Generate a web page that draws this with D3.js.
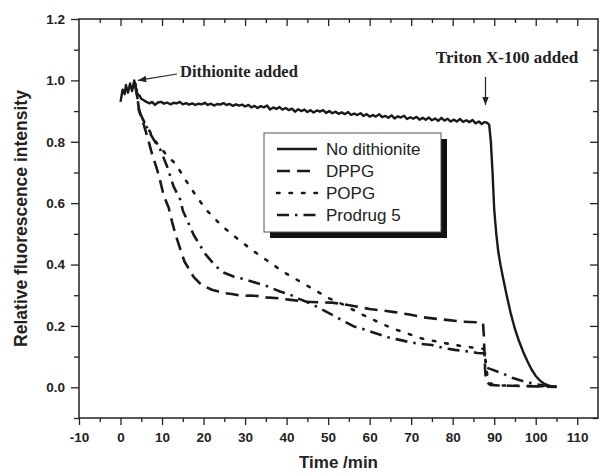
<!DOCTYPE html>
<html>
<head>
<meta charset="utf-8">
<script src="https://cdn.jsdelivr.net/npm/d3@7"></script>
<style>
  body { margin: 0; background: #fff; }
  svg { display: block; }
  .tick text { font-family: "Liberation Sans", Arial, sans-serif; font-weight: bold; font-size: 13.5px; fill: #222; }
</style>
</head>
<body>
<svg id="svg" width="601" height="474"></svg>
<script>
// tick values
var xTicks = [-10, 0, 10, 20, 30, 40, 50, 60, 70, 80, 90, 100, 110];
var yTicks = [0.0, 0.2, 0.4, 0.6, 0.8, 1.0, 1.2];
var seriesNames = ["No dithionite", "DPPG", "POPG", "Prodrug 5"];

// [time (min), relative intensity]
var noDithionite = [[0,0.93],[0.5,0.97],[1,0.955],[1.3,0.985],[1.8,0.96],[2.3,0.99],[2.8,0.965],[3.3,1.0],[3.7,0.975],[4.1,0.955],[4.6,0.95],[5,0.94],[5.6,0.935],[6.2,0.93],[7,0.925],[7.6,0.93],[8.3,0.92],[9,0.928],[9.8,0.93],[10.5,0.924],[11.2,0.928],[12,0.922],[12.8,0.927],[13.5,0.925],[14.3,0.93],[15,0.922],[15.8,0.926],[16.5,0.921],[17.3,0.925],[18,0.92],[18.8,0.924],[19.5,0.922],[20.3,0.927],[21,0.92],[21.8,0.924],[22.5,0.918],[23.3,0.923],[24,0.921],[24.8,0.926],[25.5,0.92],[26.3,0.923],[27,0.917],[27.8,0.922],[28.5,0.918],[29.3,0.921],[30,0.915],[30.8,0.92],[31.5,0.912],[32.3,0.917],[33,0.91],[33.8,0.916],[34.5,0.912],[35.3,0.918],[36,0.905],[36.8,0.912],[37.5,0.907],[38.3,0.913],[39,0.905],[39.8,0.91],[40.5,0.903],[41.3,0.908],[42,0.898],[42.8,0.906],[43.5,0.9],[44.3,0.905],[45,0.897],[45.8,0.903],[46.5,0.895],[47.3,0.902],[48,0.898],[48.8,0.903],[49.5,0.894],[50.3,0.9],[51,0.893],[51.8,0.898],[52.5,0.891],[53.3,0.896],[54,0.89],[54.8,0.897],[55.5,0.888],[56.3,0.892],[57,0.887],[57.8,0.893],[58.5,0.884],[59.3,0.89],[60,0.882],[60.8,0.887],[61.5,0.882],[62.3,0.89],[63,0.88],[63.8,0.884],[64.5,0.878],[65.3,0.886],[66,0.876],[66.8,0.883],[67.5,0.879],[68.3,0.885],[69,0.874],[69.8,0.88],[70.5,0.875],[71.3,0.881],[72,0.872],[72.8,0.878],[73.5,0.872],[74.3,0.879],[75,0.87],[75.8,0.876],[76.5,0.868],[77.3,0.878],[78,0.869],[78.8,0.875],[79.5,0.866],[80.3,0.872],[81,0.866],[81.8,0.874],[82.5,0.865],[83.3,0.87],[84,0.864],[84.8,0.871],[85.5,0.86],[86.3,0.866],[87,0.858],[87.6,0.864],[88.3,0.862],[88.8,0.855],[89.2,0.8],[89.6,0.7],[90,0.58],[90.5,0.5],[91,0.44],[91.5,0.4],[92,0.365],[93,0.3],[94,0.24],[95,0.19],[96,0.15],[97,0.115],[98,0.085],[99,0.058],[100,0.037],[101,0.022],[102,0.012],[103,0.006],[104,0.003],[105,0.002]];

var dppg = [[3.5,0.99],[4,0.95],[4.5,0.9],[5.5,0.86],[6.8,0.8],[7.6,0.76],[8.8,0.71],[9.6,0.67],[10.4,0.625],[11.6,0.585],[12.4,0.54],[13.2,0.5],[14.4,0.45],[15.4,0.41],[16.5,0.385],[17.6,0.36],[19,0.34],[20.4,0.328],[22,0.318],[23.6,0.312],[25,0.307],[26.8,0.304],[28.5,0.3],[30,0.298],[31.6,0.299],[33.2,0.297],[35,0.293],[38,0.29],[41,0.285],[44.4,0.279],[47.5,0.277],[50.9,0.276],[54,0.27],[56.8,0.263],[60,0.255],[63.2,0.25],[66,0.245],[69.6,0.237],[73,0.228],[76.1,0.223],[79,0.219],[82.1,0.214],[85.5,0.212],[87.3,0.21],[87.5,0.17],[87.8,0.06],[88,0.02],[89,0.008],[91,0.006],[94,0.005],[97,0.004],[100,0.003],[103,0.002],[105,0.001]];

var popg = [[3.5,0.99],[4,0.95],[4.5,0.9],[5.5,0.87],[7,0.835],[8.5,0.8],[10,0.775],[11.5,0.75],[13.2,0.729],[15.6,0.677],[18.3,0.622],[20.8,0.576],[24.4,0.526],[28,0.486],[31.6,0.448],[35.3,0.413],[39,0.378],[42.8,0.348],[46.7,0.318],[50.2,0.29],[53.9,0.268],[57.6,0.241],[61.5,0.216],[65.3,0.193],[68.9,0.176],[72.4,0.16],[76.1,0.149],[80.5,0.138],[84,0.131],[87.5,0.125],[88,0.08],[88.5,0.02],[89.7,0.008],[92,0.006],[95,0.005],[100,0.004],[105,0.002]];

var prodrug = [[3.5,0.99],[4,0.95],[4.5,0.9],[5.5,0.87],[7,0.83],[8.4,0.798],[9.6,0.774],[11.2,0.72],[12.8,0.654],[14.4,0.611],[15,0.576],[16,0.546],[17.6,0.497],[18.8,0.47],[20.4,0.435],[22.8,0.396],[24.8,0.374],[27.2,0.361],[30.4,0.35],[33,0.339],[35.2,0.33],[38.4,0.312],[40.7,0.303],[43,0.288],[46,0.272],[48.7,0.252],[51,0.236],[54,0.214],[56.3,0.198],[58.6,0.189],[62,0.174],[64.4,0.163],[66.4,0.157],[70,0.146],[72.4,0.141],[75,0.138],[78,0.127],[80.5,0.122],[83,0.118],[86,0.112],[87.8,0.11],[88,0.065],[89,0.06],[91.7,0.047],[94.5,0.03],[97,0.02],[100,0.01],[103,0.004],[105,0.002]];

var series = [noDithionite, dppg, popg, prodrug];
var dashes = ["none", "13,7", "2.5,10", "12,6,2.5,6"];

var svg = d3.select("#svg"),
  plotLeft = 79, plotRight = 598, plotTop = 19, plotBottom = 418;

var x = d3.scaleLinear().domain([-10, 115]).range([plotLeft, plotRight]);
var y = d3.scaleLinear().domain([-0.1, 1.2]).range([plotBottom, plotTop]);

var font = "'Liberation Sans', Arial, sans-serif";
var serif = "'Liberation Serif', 'Times New Roman', serif";

// minor ticks
var xMinor = d3.range(-5, 115, 10);
var yMinor = [-0.1, 0.1, 0.3, 0.5, 0.7, 0.9, 1.1];

function styleAxis(g) {
  g.select(".domain").remove();
  g.selectAll("line").attr("stroke", "#222").attr("stroke-width", 1.3);
}

svg.append("g").attr("transform", "translate(0," + plotBottom + ")")
  .call(d3.axisBottom(x).tickValues(xTicks).tickSize(7).tickPadding(7).tickFormat(function (d) { return String(d); }))
  .call(styleAxis);
svg.append("g").attr("transform", "translate(0," + plotBottom + ")")
  .call(d3.axisBottom(x).tickValues(xMinor).tickSize(4).tickFormat(""))
  .call(styleAxis);
svg.append("g").attr("transform", "translate(0," + plotTop + ")")
  .call(d3.axisBottom(x).tickValues(xTicks.slice(1)).tickSize(7).tickFormat(""))
  .call(styleAxis);
svg.append("g").attr("transform", "translate(0," + plotTop + ")")
  .call(d3.axisBottom(x).tickValues(xMinor).tickSize(4).tickFormat(""))
  .call(styleAxis);

svg.append("g").attr("transform", "translate(" + plotLeft + ",0)")
  .call(d3.axisLeft(y).tickValues(yTicks).tickSize(8).tickPadding(6).tickFormat(d3.format(".1f")))
  .call(styleAxis);
svg.append("g").attr("transform", "translate(" + plotLeft + ",0)")
  .call(d3.axisLeft(y).tickValues(yMinor).tickSize(5).tickFormat(""))
  .call(styleAxis);
svg.append("g").attr("transform", "translate(" + plotRight + ",0)")
  .call(d3.axisLeft(y).tickValues(yTicks.slice(0, 6)).tickSize(8).tickFormat(""))
  .call(styleAxis);
svg.append("g").attr("transform", "translate(" + plotRight + ",0)")
  .call(d3.axisLeft(y).tickValues(yMinor).tickSize(5).tickFormat(""))
  .call(styleAxis);

// frame
svg.append("rect")
  .attr("x", plotLeft).attr("y", plotTop)
  .attr("width", plotRight - plotLeft).attr("height", plotBottom - plotTop)
  .attr("fill", "none").attr("stroke", "#222").attr("stroke-width", 1.5);

// curves
var line = d3.line().x(function (d) { return x(d[0]); }).y(function (d) { return y(d[1]); });

series.forEach(function (s, i) {
  svg.append("path")
    .attr("d", line(s))
    .attr("fill", "none")
    .attr("stroke", "#1a1a1a")
    .attr("stroke-width", i == 0 ? 2.4 : 2.6)
    .attr("stroke-linecap", i == 2 ? "round" : "butt")
    .attr("stroke-linejoin", "round")
    .attr("stroke-dasharray", dashes[i]);
});

// axis titles
svg.append("text")
  .attr("x", (plotLeft + plotRight) / 2).attr("y", 468)
  .attr("text-anchor", "middle")
  .attr("font-family", font).attr("font-weight", "bold").attr("font-size", 17)
  .attr("fill", "#222")
  .text("Time /min");

svg.append("text")
  .attr("transform", "translate(27," + (plotTop + plotBottom) / 2 + ") rotate(-90)")
  .attr("text-anchor", "middle")
  .attr("font-family", font).attr("font-weight", "bold").attr("font-size", 17.5)
  .attr("fill", "#222")
  .text("Relative fluorescence intensity");

// annotations
svg.append("defs").append("marker")
  .attr("id", "arrow").attr("viewBox", "0 0 10 10")
  .attr("refX", 10).attr("refY", 5)
  .attr("markerWidth", 7).attr("markerHeight", 7)
  .attr("orient", "auto-start-reverse")
  .append("path").attr("d", "M0,1 L10,5 L0,9 Z").attr("fill", "#222");

svg.append("text")
  .attr("x", 180).attr("y", 77)
  .attr("font-family", serif).attr("font-weight", "bold").attr("font-size", 16.5)
  .attr("fill", "#222")
  .text("Dithionite added");
svg.append("line")
  .attr("x1", 177).attr("y1", 74).attr("x2", x(4.2)).attr("y2", y(1.0))
  .attr("stroke", "#222").attr("stroke-width", 1.2)
  .attr("marker-end", "url(#arrow)");

svg.append("text")
  .attr("x", 507).attr("y", 63)
  .attr("text-anchor", "middle")
  .attr("font-family", serif).attr("font-weight", "bold").attr("font-size", 17)
  .attr("fill", "#222")
  .text("Triton X-100 added");
svg.append("line")
  .attr("x1", x(87.9)).attr("y1", 77).attr("x2", x(87.9)).attr("y2", 105)
  .attr("stroke", "#222").attr("stroke-width", 1.2)
  .attr("marker-end", "url(#arrow)");

// legend
var lg = svg.append("g").attr("transform", "translate(264,133)");
lg.append("rect").attr("x", 6).attr("y", 6).attr("width", 177).attr("height", 99).attr("fill", "#111");
lg.append("rect").attr("x", 0).attr("y", 0).attr("width", 177).attr("height", 99)
  .attr("fill", "#fff").attr("stroke", "#555").attr("stroke-width", 1);

seriesNames.forEach(function (name, i) {
  var yy = 16 + i * 22;
  lg.append("line")
    .attr("x1", 13).attr("x2", 53).attr("y1", yy).attr("y2", yy)
    .attr("stroke", "#1a1a1a").attr("stroke-width", 2.6)
    .attr("stroke-linecap", i == 2 ? "round" : "butt")
    .attr("stroke-dasharray", dashes[i]);
  lg.append("text")
    .attr("x", 62).attr("y", yy + 6)
    .attr("font-family", font).attr("font-size", 17)
    .attr("fill", "#222")
    .text(name);
});
</script>
</body>
</html>
